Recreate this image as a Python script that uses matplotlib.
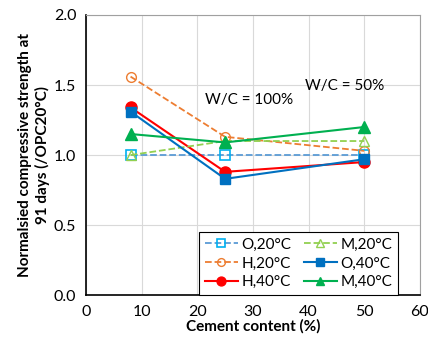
import matplotlib.pyplot as plt
import numpy as np

plt.rcParams['font.family'] = ['Lato', 'DejaVu Sans']

cement = [8, 25, 50]
o20 = [1.00, 1.00, 1.00]
h20 = [1.56, 1.13, 1.03]
m20 = [1.00, 1.10, 1.10]
o40 = [1.31, 0.83, 0.97]
h40 = [1.34, 0.88, 0.95]
m40 = [1.15, 1.09, 1.20]

f = plt.figure(figsize=(4.28, 3.4), dpi=100)
ax = f.add_axes([0.201, 0.132, 0.780, 0.824])

ax.plot(cement, o20, '--', color='#5B9BD5', marker='s', ms=7, mfc='none', mec='#00B0F0', mew=1.2, lw=1.3, label='O,20°C')
ax.plot(cement, h20, '--', color='#ED7D31', marker='o', ms=7, mfc='none', mec='#ED7D31', mew=1.0, lw=1.3, label='H,20°C')
ax.plot(cement, h40, '-', color='#FF0000', marker='o', ms=8, lw=1.5, label='H,40°C')
ax.plot(cement, m20, '--', color='#92D050', marker='^', ms=7, mfc='none', mec='#92D050', mew=1.0, lw=1.3, label='M,20°C')
ax.plot(cement, o40, '-', color='#0070C0', marker='s', ms=7, lw=1.5, label='O,40°C')
ax.plot(cement, m40, '-', color='#00B050', marker='^', ms=8, lw=1.5, label='M,40°C')

ax.text(21.4, 1.39, 'W/C = 100%', fontsize=11, va='center')
ax.text(39.3, 1.49, 'W/C = 50%', fontsize=11, va='center')

ax.set_xlim(0, 60)
ax.set_ylim(0, 2.0)
ax.set_xticks(np.arange(0, 61, 10))
ax.set_yticks(np.arange(0, 2.01, 0.5))
ax.set_yticklabels([f"{v:.1f}" for v in np.arange(0, 2.01, 0.5)])
ax.tick_params(labelsize=11.5, length=0, pad=7)
ax.grid(True, color='#D9D9D9', lw=0.8)
ax.set_axisbelow(True)
for s in ['top', 'right']:
    ax.spines[s].set_color('#A0A0A0')
for s in ['left', 'bottom']:
    ax.spines[s].set_color('black')
    ax.spines[s].set_linewidth(1.2)

ax.set_xlabel("Cement content (%)", fontsize=11, fontweight='bold', labelpad=0)
ax.set_ylabel("Normalsied compressive strength at\n91 days (/OPC20°C)", fontsize=11, fontweight='bold', labelpad=3)

leg = ax.legend(ncol=2, loc='lower right', bbox_to_anchor=(0.935, 0.0), fontsize=11,
                frameon=True, fancybox=False, edgecolor='black', framealpha=1, markerscale=0.8,
                handlelength=2.2, handletextpad=0.2, columnspacing=0.8, labelspacing=0.3,
                borderpad=0.4, borderaxespad=0)
leg.get_frame().set_linewidth(0.8)

plt.savefig('out.png', dpi=100)
